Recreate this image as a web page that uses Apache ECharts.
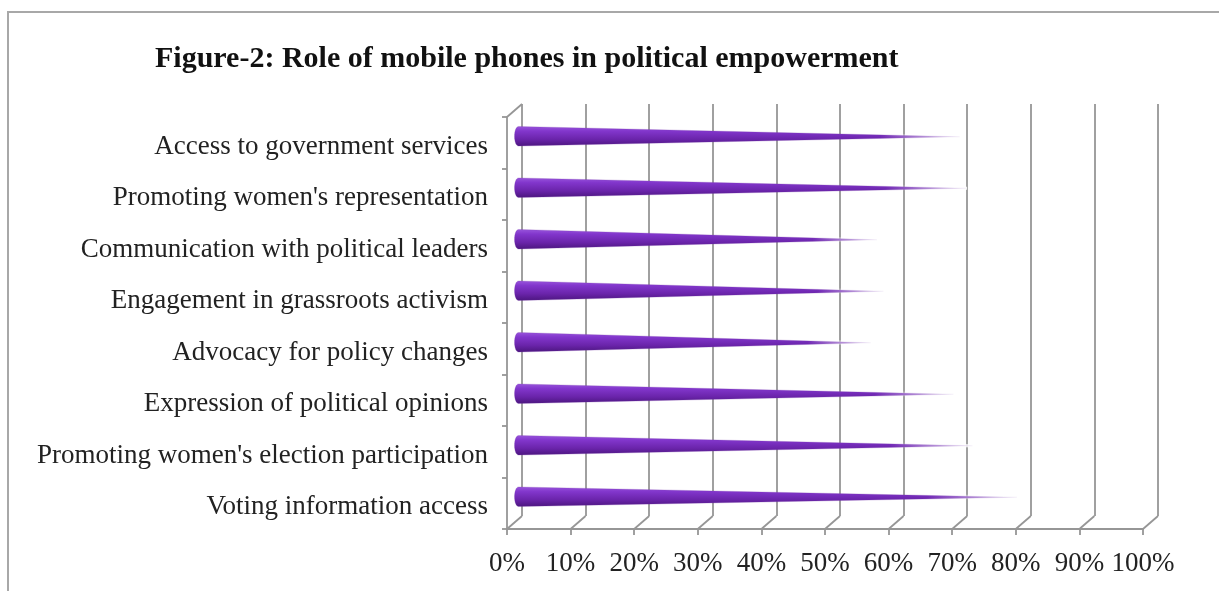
<!DOCTYPE html>
<html>
<head>
<meta charset="utf-8">
<script src="https://cdn.jsdelivr.net/npm/echarts@6/dist/echarts.min.js"></script>
<style>
html,body{margin:0;padding:0;background:#fff;}
#chart{width:1219px;height:591px;}
</style>
</head>
<body>
<div id="chart"></div>
<script>
// ---- data (top to bottom) ----
const categories = [
  "Access to government services",
  "Promoting women's representation",
  "Communication with political leaders",
  "Engagement in grassroots activism",
  "Advocacy for policy changes",
  "Expression of political opinions",
  "Promoting women's election participation",
  "Voting information access"
];
const values = [70, 71, 57, 58, 56, 69, 72, 79];
const xTicks = [0, 10, 20, 30, 40, 50, 60, 70, 80, 90, 100];
const titleText = "Figure-2: Role of mobile phones in political empowerment";

// ---- layout / style ----
const FRONT = {left: 507, top: 117, width: 636, height: 412};
const DX = 15, DY = -13; // depth offset of back wall
const BACK = {left: FRONT.left + DX, top: FRONT.top + DY, width: FRONT.width, height: FRONT.height};
const MID = {left: FRONT.left + DX / 2, top: FRONT.top + DY / 2, width: FRONT.width, height: FRONT.height};
const LABELGRID = {left: FRONT.left, top: FRONT.top + 4, width: FRONT.width, height: FRONT.height};
const FONT = "'Liberation Serif', 'Times New Roman', serif";
const LINE = '#969696';

const chart = echarts.init(document.getElementById('chart'), null, {renderer: 'canvas'});

function hiddenX(idx) {
  return {type: 'value', gridIndex: idx, min: 0, max: 100, interval: 10,
    axisLabel: {show: false}, axisLine: {show: false}, axisTick: {show: false}, splitLine: {show: false}};
}
function hiddenY(idx) {
  return {type: 'category', gridIndex: idx, data: categories, inverse: true,
    axisLabel: {show: false}, axisLine: {show: false}, axisTick: {show: false}, splitLine: {show: false}};
}

const backX = hiddenX(1);
backX.splitLine = {show: true, lineStyle: {color: LINE, width: 1.8}};

const labelY = hiddenY(3);
labelY.axisLabel = {show: true, fontFamily: FONT, fontSize: 27, color: '#222', margin: 19};

const option = {
  animation: false,
  backgroundColor: '#fff',
  title: {
    text: titleText,
    left: 150, top: 39,
    textStyle: {fontFamily: FONT, fontWeight: 'bold', fontSize: 30, color: '#111'}
  },
  graphic: [{
    type: 'rect', silent: true, z: -10,
    shape: {x: 8, y: 12, width: 1400, height: 800},
    style: {fill: 'none', stroke: '#a8a8a8', lineWidth: 2}
  }],
  grid: [
    Object.assign({containLabel: false}, FRONT),
    Object.assign({containLabel: false}, BACK),
    Object.assign({containLabel: false}, MID),
    Object.assign({containLabel: false}, LABELGRID)
  ],
  xAxis: [
    {
      type: 'value', gridIndex: 0, min: 0, max: 100, interval: 10,
      axisLine: {show: true, lineStyle: {color: LINE, width: 1.8}},
      axisTick: {show: true, length: 6, lineStyle: {color: LINE, width: 1.8}},
      splitLine: {show: false},
      axisLabel: {formatter: '{value}%', fontFamily: FONT, fontSize: 27, color: '#222', margin: 21}
    },
    backX,
    hiddenX(2),
    hiddenX(3)
  ],
  yAxis: [
    {
      type: 'category', gridIndex: 0, data: categories, inverse: true,
      axisLine: {show: true, lineStyle: {color: LINE, width: 1.8}},
      axisTick: {show: true, length: 5, lineStyle: {color: LINE, width: 1.8}},
      splitLine: {show: false},
      axisLabel: {show: false}
    },
    hiddenY(1),
    hiddenY(2),
    labelY
  ],
  series: [
    {
      // floor depth lines from the front ticks to the back wall
      type: 'custom', xAxisIndex: 0, yAxisIndex: 0, silent: true, z: 1,
      data: xTicks.map(t => [t]),
      renderItem: function (params, api) {
        const p = api.coord([api.value(0), categories.length - 1]);
        const band = api.size([0, 1])[1];
        const y = p[1] + band / 2;
        return {type: 'line', shape: {x1: p[0], y1: y, x2: p[0] + DX, y2: y + DY},
          style: {stroke: LINE, lineWidth: 1.8}};
      }
    },
    {
      // side wall top edge
      type: 'custom', xAxisIndex: 0, yAxisIndex: 0, silent: true, z: 1,
      data: [[0]],
      renderItem: function (params, api) {
        const p = api.coord([0, 0]);
        const band = api.size([0, 1])[1];
        const y = p[1] - band / 2;
        return {type: 'line', shape: {x1: p[0], y1: y, x2: p[0] + DX, y2: y + DY},
          style: {stroke: LINE, lineWidth: 1.8}};
      }
    },
    {
      // cones
      type: 'custom', xAxisIndex: 2, yAxisIndex: 2, z: 5,
      data: values.map((v, i) => [v, i]),
      renderItem: function (params, api) {
        const cat = api.value(1);
        const base = api.coord([0, cat]);
        const tip = api.coord([api.value(0), cat]);
        const band = api.size([0, 1])[1];
        const r = band * 0.19;
        const rx = 4;
        const bx = base[0] + rx, by = base[1];
        const pts = [];
        const N = 16;
        for (let k = 0; k <= N; k++) {
          const th = Math.PI / 2 + Math.PI * k / N;
          pts.push([bx + rx * Math.cos(th), by - r * Math.sin(th)]);
        }
        const ty = by + 0.5;
        pts.push([tip[0], ty]);
        // fading tip overlay
        const f = 0.82;
        const fx = bx + (tip[0] - bx) * f;
        const fr = r * (1 - f) + 1;
        return {
          type: 'group',
          children: [
            {
              type: 'polygon',
              shape: {points: pts},
              style: {
                fill: new echarts.graphic.LinearGradient(0, 0, 0, 1, [
                  {offset: 0, color: '#9a57dd'},
                  {offset: 0.25, color: '#8236cc'},
                  {offset: 0.65, color: '#6a24aa'},
                  {offset: 1, color: '#4a157c'}
                ]),
                stroke: 'rgba(120,60,170,0.25)', lineWidth: 1
              }
            },
            {
              type: 'polygon',
              shape: {points: [[fx, by - fr], [tip[0] + 1, ty - 1.5], [tip[0] + 1, ty + 1.5], [fx, by + fr]]},
              style: {
                fill: new echarts.graphic.LinearGradient(0, 0, 1, 0, [
                  {offset: 0, color: 'rgba(255,255,255,0)'},
                  {offset: 1, color: 'rgba(255,255,255,0.85)'}
                ])
              }
            }
          ]
        };
      }
    }
  ]
};
chart.setOption(option);
</script>
</body>
</html>
